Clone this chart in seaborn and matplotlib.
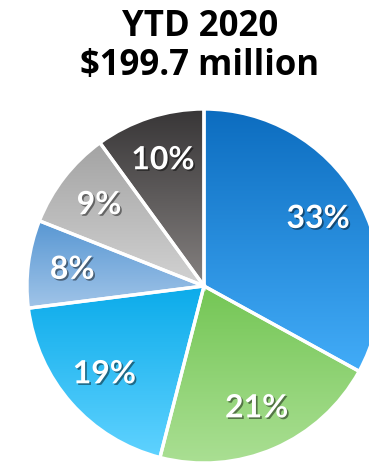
import numpy as np
import matplotlib
matplotlib.use("Agg")
import matplotlib.pyplot as plt
import matplotlib.patheffects as pe
from matplotlib.patches import Wedge
from matplotlib.colors import LinearSegmentedColormap
import seaborn as sns

# Share of YTD 2020 total, clockwise from 12 o'clock
shares = [33, 21, 19, 8, 9, 10]
labels = ["33%", "21%", "19%", "8%", "9%", "10%"]
# Vertical gradient per slice: (top colour, bottom colour)
grad_top = ["#0C6CBF", "#74C655", "#0BABEA", "#5897D3", "#A3A3A3", "#383637"]
grad_bottom = ["#42ACF8", "#AADF93", "#5FD2FF", "#A0C4E8", "#D2D2D2", "#858180"]
title_lines = ["YTD 2020", "$199.7 million"]

sns.set_theme(style="white")
plt.rcParams["font.family"] = ["Open Sans", "DejaVu Sans"]

W, H = 369, 462
fig = plt.figure(figsize=(W / 100, H / 100), dpi=100)
cx, cy, R = 204, 286, 177
ax = fig.add_axes([(cx - R) / W, (H - cy - R) / H, 2 * R / W, 2 * R / H])
ax.set_xlim(-1, 1)
ax.set_ylim(-1, 1)
ax.set_aspect("equal")
ax.axis("off")

wedges, _ = ax.pie(shares, startangle=90, counterclock=False, radius=1,
                   colors=grad_top, wedgeprops=dict(linewidth=0))

ramp = np.linspace(0, 1, 256).reshape(-1, 1)
for w, c0, c1 in zip(wedges, grad_top, grad_bottom):
    ext = w.get_path().get_extents()
    cmap = LinearSegmentedColormap.from_list("g", [c1, c0])
    im = ax.imshow(ramp, cmap=cmap, origin="lower", aspect="auto",
                   extent=[ext.x0, ext.x1, ext.y0, ext.y1], zorder=2)
    im.set_clip_path(w)
    # white separators drawn above the gradient
    ax.add_patch(Wedge(w.center, w.r, w.theta1, w.theta2, facecolor="none",
                       edgecolor="white", linewidth=2.4, zorder=3))

ax.set_xlim(-1, 1)
ax.set_ylim(-1, 1)

# percentage labels along each slice's mid angle
total = sum(shares)
start = 90.0
for s, lab in zip(shares, labels):
    mid = np.deg2rad(start - 360.0 * s / total / 2)
    start -= 360.0 * s / total
    ax.text(0.75 * np.cos(mid), 0.75 * np.sin(mid), lab, ha="center", va="center",
            color="white", fontsize=23, fontweight="bold", family=["Lato", "DejaVu Sans"],
            zorder=5,
            path_effects=[pe.withSimplePatchShadow(offset=(1.2, -1.2),
                                                   shadow_rgbFace="black", alpha=0.45)])

# two-line title, baselines placed in pixels from the top
for line, base in zip(title_lines, [36, 75]):
    fig.text(200 / W, 1 - base / H, line, ha="center", va="baseline", fontsize=25,
             fontweight="bold", color="black")

fig.savefig("out.png", dpi=100)
